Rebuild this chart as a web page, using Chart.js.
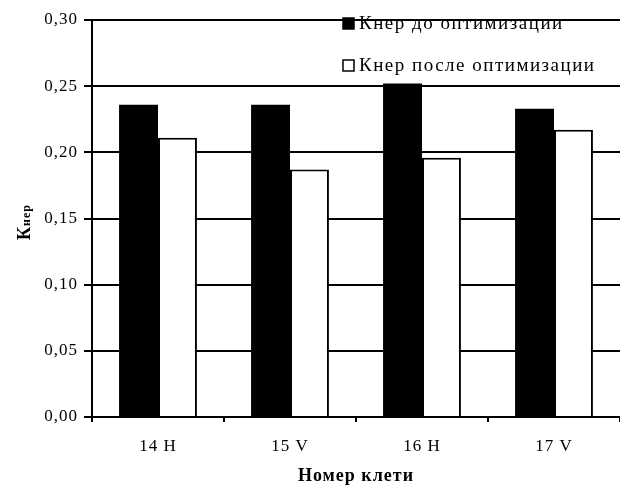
<!DOCTYPE html>
<html>
<head>
<meta charset="utf-8">
<script src="https://cdn.jsdelivr.net/npm/chart.js@4.4.1/dist/chart.umd.min.js"></script>
<style>
  body { margin: 0; background: #fff; }
  #wrap { width: 620px; height: 488px; }
</style>
</head>
<body>
<div id="wrap"><canvas id="grafico" width="620" height="488"></canvas></div>
<script>
const categorias = ["14 H", "15 V", "16 H", "17 V"];
const antes = [0.236, 0.236, 0.252, 0.233];
const despues = [0.211, 0.187, 0.196, 0.217];
const etiquetas = ["Кнер до оптимизации", "Кнер после оптимизации"];
const yTicks = [0, 0.05, 0.10, 0.15, 0.20, 0.25, 0.30];
const tituloX = "Номер клети";
const tituloY = ["К", "нер"];

const fuente = "'Liberation Serif', 'Times New Roman', serif";

// el original tiene los caracteres algo separados
const espaciado = {
  id: "espaciado",
  beforeDraw(chart) {
    chart.ctx.letterSpacing = "1px";
  }
};

// leyenda vertical arriba a la derecha, encima del área
const leyenda = {
  id: "leyenda",
  afterDraw(chart) {
    const ctx = chart.ctx;
    ctx.save();
    ctx.font = "19px " + fuente;
    ctx.letterSpacing = "1.5px";
    ctx.textBaseline = "middle";
    chart.data.datasets.forEach((ds, i) => {
      const y = 23 + i * 42;
      ctx.fillStyle = ds.backgroundColor;
      ctx.fillRect(343, y - 5, 11, 11);
      ctx.strokeStyle = "#000";
      ctx.lineWidth = 1.5;
      ctx.strokeRect(343, y - 5, 11, 11);
      ctx.fillStyle = "#000";
      ctx.fillText(ds.label, 359, y + 1);
    });
    ctx.restore();
  }
};

// título del eje Y con subíndice
const tituloEjeY = {
  id: "tituloEjeY",
  afterDraw(chart) {
    const ctx = chart.ctx;
    ctx.save();
    ctx.translate(24, 222);
    ctx.rotate(-Math.PI / 2);
    ctx.fillStyle = "#000";
    ctx.textBaseline = "alphabetic";
    ctx.letterSpacing = "1px";
    ctx.font = "bold 18px " + fuente;
    const wK = ctx.measureText(tituloY[0]).width;
    ctx.font = "bold 12px " + fuente;
    const wSub = ctx.measureText(tituloY[1]).width;
    const x0 = -(wK + wSub) / 2;
    ctx.font = "bold 18px " + fuente;
    ctx.fillText(tituloY[0], x0, 6);
    ctx.font = "bold 12px " + fuente;
    ctx.fillText(tituloY[1], x0 + wK, 6);
    ctx.restore();
  }
};

const ctx = document.getElementById("grafico").getContext("2d");
new Chart(ctx, {
  type: "bar",
  data: {
    labels: categorias,
    datasets: [
      {
        label: etiquetas[0],
        data: antes,
        backgroundColor: "#000",
        borderColor: "#000",
        borderWidth: 0
      },
      {
        label: etiquetas[1],
        data: despues,
        backgroundColor: "#fff",
        borderColor: "#000",
        borderWidth: 2
      }
    ]
  },
  options: {
    responsive: false,
    animation: false,
    devicePixelRatio: 1,
    layout: { padding: { top: 20, right: -4, left: 0, bottom: 0 } },
    datasets: { bar: { categoryPercentage: 0.59, barPercentage: 1 } },
    plugins: {
      legend: { display: false },
      tooltip: { enabled: false }
    },
    scales: {
      x: {
        afterFit: s => { s.height = 71; },
        grid: {
          offset: true,
          drawOnChartArea: false,
          drawTicks: true,
          tickLength: 5,
          color: "#000",
          lineWidth: 2
        },
        border: { display: true, color: "#000", width: 2 },
        ticks: {
          color: "#000",
          padding: 14,
          font: { family: fuente, size: 17 }
        },
        title: {
          display: true,
          text: tituloX,
          color: "#000",
          font: { family: fuente, size: 18, weight: "bold" },
          padding: { top: 0, bottom: 1 }
        }
      },
      y: {
        min: 0,
        max: 0.3,
        afterFit: s => { s.width = 92; },
        afterBuildTicks: s => { s.ticks = yTicks.map(v => ({ value: v })); },
        grid: {
          color: "#000",
          lineWidth: 2,
          drawTicks: true,
          tickLength: 8
        },
        border: { display: true, color: "#000", width: 2 },
        ticks: {
          color: "#000",
          padding: 6,
          font: { family: fuente, size: 17 },
          callback: v => v.toFixed(2).replace(".", ",")
        }
      }
    }
  },
  plugins: [espaciado, leyenda, tituloEjeY]
});
</script>
</body>
</html>
